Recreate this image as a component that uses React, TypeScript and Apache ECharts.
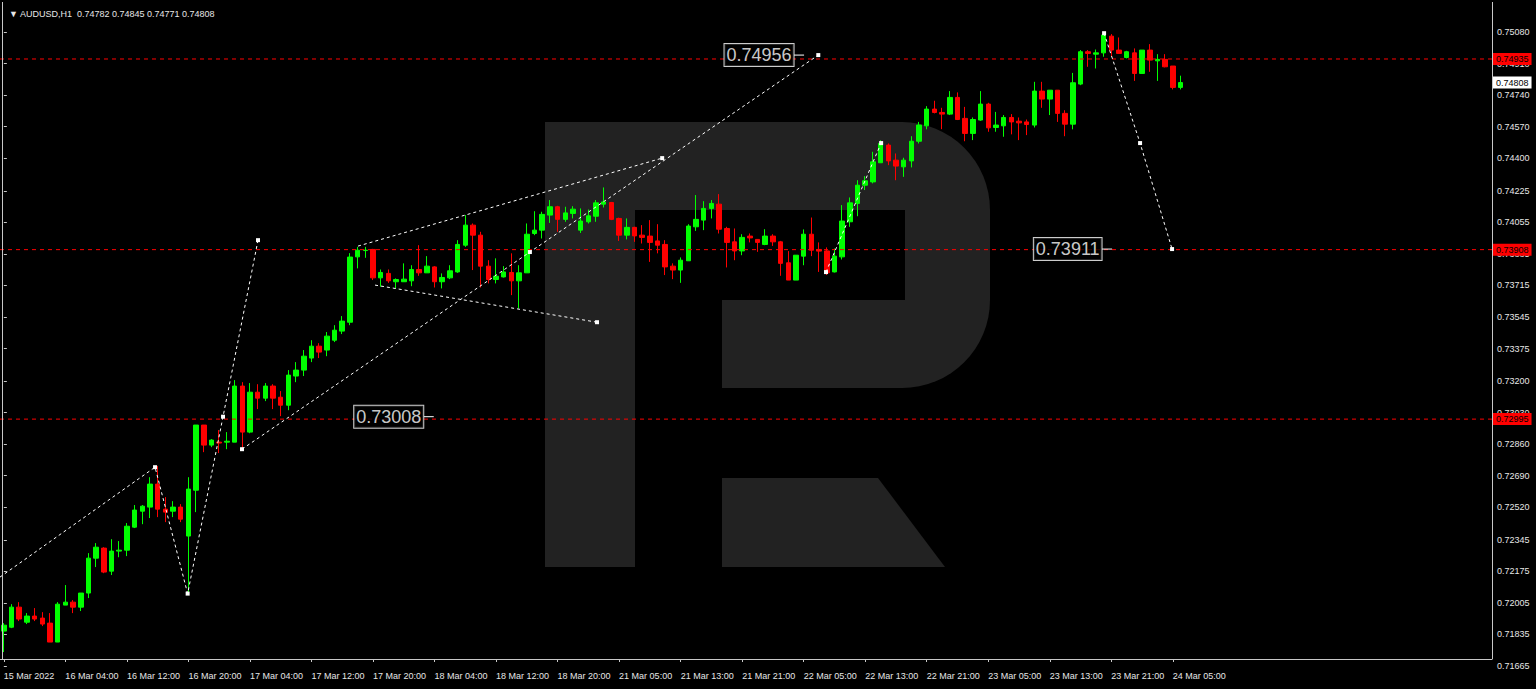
import React, { useEffect, useRef } from 'react';
import * as echarts from 'echarts';

// ---- data (H1 candles: [open, high, low, close]) ----
const candles: number[][] = [
  [0.71853, 0.71896, 0.71740, 0.71885], [0.71874, 0.71998, 0.71869, 0.71982], [0.71982, 0.72009, 0.71907, 0.71918], [0.71901, 0.71950, 0.71891, 0.71934],
  [0.71934, 0.71977, 0.71907, 0.71918], [0.71923, 0.71955, 0.71880, 0.71891], [0.71896, 0.71950, 0.71794, 0.71794], [0.71794, 0.72009, 0.71794, 0.71998],
  [0.71993, 0.72101, 0.71993, 0.72009], [0.72009, 0.72020, 0.71950, 0.71982], [0.71982, 0.72058, 0.71961, 0.72058], [0.72058, 0.72273, 0.72031, 0.72246],
  [0.72246, 0.72327, 0.72198, 0.72305], [0.72300, 0.72305, 0.72165, 0.72171], [0.72176, 0.72348, 0.72155, 0.72284], [0.72284, 0.72338, 0.72251, 0.72289],
  [0.72289, 0.72435, 0.72257, 0.72418], [0.72413, 0.72532, 0.72408, 0.72505], [0.72499, 0.72532, 0.72429, 0.72526], [0.72521, 0.72682, 0.72462, 0.72645],
  [0.72645, 0.72742, 0.72467, 0.72510], [0.72510, 0.72575, 0.72440, 0.72494], [0.72499, 0.72553, 0.72467, 0.72521], [0.72521, 0.72537, 0.72440, 0.72456],
  [0.72365, 0.72682, 0.72047, 0.72618], [0.72612, 0.72963, 0.72494, 0.72963], [0.72963, 0.72963, 0.72817, 0.72855], [0.72855, 0.72887, 0.72844, 0.72882],
  [0.72871, 0.72936, 0.72812, 0.72866], [0.72871, 0.72925, 0.72833, 0.72876], [0.72871, 0.73205, 0.72871, 0.73173], [0.73173, 0.73194, 0.72839, 0.72925],
  [0.72925, 0.73189, 0.72919, 0.73140], [0.73140, 0.73183, 0.73049, 0.73108], [0.73108, 0.73189, 0.73092, 0.73173], [0.73173, 0.73183, 0.73049, 0.73108],
  [0.73113, 0.73146, 0.73011, 0.73070], [0.73070, 0.73259, 0.73043, 0.73232], [0.73227, 0.73302, 0.73194, 0.73259], [0.73259, 0.73367, 0.73227, 0.73334],
  [0.73324, 0.73420, 0.73302, 0.73388], [0.73388, 0.73404, 0.73324, 0.73356], [0.73367, 0.73464, 0.73334, 0.73442], [0.73420, 0.73501, 0.73410, 0.73474],
  [0.73469, 0.73550, 0.73453, 0.73523], [0.73517, 0.73889, 0.73501, 0.73868], [0.73869, 0.73923, 0.73807, 0.73905], [0.73903, 0.73923, 0.73864, 0.73905],
  [0.73909, 0.73912, 0.73744, 0.73756], [0.73756, 0.73801, 0.73708, 0.73785], [0.73780, 0.73801, 0.73729, 0.73740], [0.73735, 0.73753, 0.73699, 0.73747],
  [0.73735, 0.73834, 0.73735, 0.73749], [0.73740, 0.73824, 0.73711, 0.73801], [0.73801, 0.73932, 0.73767, 0.73783], [0.73783, 0.73873, 0.73783, 0.73819],
  [0.73815, 0.73819, 0.73704, 0.73735], [0.73735, 0.73780, 0.73699, 0.73758], [0.73756, 0.73824, 0.73749, 0.73794], [0.73788, 0.73959, 0.73783, 0.73936],
  [0.73932, 0.74094, 0.73923, 0.74040], [0.74040, 0.74049, 0.73798, 0.73986], [0.73986, 0.74004, 0.73704, 0.73819], [0.73819, 0.73851, 0.73726, 0.73747],
  [0.73747, 0.73861, 0.73726, 0.73765], [0.73761, 0.73819, 0.73758, 0.73788], [0.73785, 0.73888, 0.73663, 0.73740], [0.73740, 0.73824, 0.73591, 0.73783],
  [0.73783, 0.74049, 0.73783, 0.73991], [0.73995, 0.74115, 0.73986, 0.74013], [0.74013, 0.74112, 0.73968, 0.74098], [0.74094, 0.74175, 0.74052, 0.74139],
  [0.74139, 0.74144, 0.74004, 0.74071], [0.74071, 0.74139, 0.74058, 0.74106], [0.74103, 0.74142, 0.74076, 0.74126], [0.74013, 0.74130, 0.73998, 0.74062],
  [0.74058, 0.74124, 0.74049, 0.74090], [0.74088, 0.74175, 0.74058, 0.74160], [0.74153, 0.74243, 0.74135, 0.74165], [0.74162, 0.74165, 0.74067, 0.74071],
  [0.74076, 0.74080, 0.73955, 0.73986], [0.73986, 0.74076, 0.73963, 0.74028], [0.74028, 0.74031, 0.73950, 0.73982], [0.73986, 0.74040, 0.73941, 0.73974],
  [0.73981, 0.74067, 0.73842, 0.73947], [0.73955, 0.74045, 0.73888, 0.73932], [0.73936, 0.73959, 0.73771, 0.73815], [0.73819, 0.73834, 0.73749, 0.73798],
  [0.73798, 0.73866, 0.73729, 0.73851], [0.73848, 0.74045, 0.73848, 0.74035], [0.74031, 0.74202, 0.74009, 0.74071], [0.74067, 0.74169, 0.74013, 0.74130],
  [0.74130, 0.74175, 0.74076, 0.74157], [0.74153, 0.74207, 0.73995, 0.74018], [0.74022, 0.74031, 0.73812, 0.73947], [0.73950, 0.74022, 0.73851, 0.73901],
  [0.73901, 0.73991, 0.73878, 0.73974], [0.73981, 0.73995, 0.73947, 0.73971], [0.73963, 0.73965, 0.73896, 0.73947], [0.73936, 0.74018, 0.73932, 0.73981],
  [0.73981, 0.73991, 0.73928, 0.73950], [0.73950, 0.73955, 0.73767, 0.73834], [0.73837, 0.73900, 0.73744, 0.73744], [0.73744, 0.73878, 0.73744, 0.73878],
  [0.73873, 0.74017, 0.73824, 0.73991], [0.73991, 0.74081, 0.73873, 0.73905], [0.73909, 0.73947, 0.73788, 0.73900], [0.73901, 0.73920, 0.73771, 0.73783],
  [0.73788, 0.73914, 0.73785, 0.73873], [0.73869, 0.74148, 0.73855, 0.74062], [0.74058, 0.74189, 0.74031, 0.74160], [0.74157, 0.74282, 0.74088, 0.74255],
  [0.74255, 0.74304, 0.74229, 0.74279], [0.74273, 0.74435, 0.74265, 0.74381], [0.74376, 0.74498, 0.74376, 0.74480], [0.74471, 0.74480, 0.74363, 0.74386],
  [0.74390, 0.74426, 0.74282, 0.74358], [0.74354, 0.74403, 0.74300, 0.74390], [0.74386, 0.74519, 0.74351, 0.74492], [0.74492, 0.74596, 0.74480, 0.74579],
  [0.74575, 0.74681, 0.74556, 0.74665], [0.74665, 0.74710, 0.74642, 0.74647], [0.74647, 0.74672, 0.74557, 0.74638], [0.74638, 0.74762, 0.74633, 0.74728],
  [0.74728, 0.74755, 0.74606, 0.74609], [0.74615, 0.74677, 0.74492, 0.74534], [0.74534, 0.74620, 0.74498, 0.74609], [0.74606, 0.74762, 0.74602, 0.74692],
  [0.74692, 0.74699, 0.74543, 0.74564], [0.74566, 0.74650, 0.74543, 0.74579], [0.74575, 0.74633, 0.74516, 0.74620], [0.74620, 0.74638, 0.74529, 0.74596],
  [0.74600, 0.74620, 0.74498, 0.74591], [0.74596, 0.74609, 0.74525, 0.74582], [0.74579, 0.74812, 0.74566, 0.74762], [0.74762, 0.74812, 0.74672, 0.74719],
  [0.74719, 0.74767, 0.74633, 0.74767], [0.74767, 0.74767, 0.74596, 0.74642], [0.74642, 0.74659, 0.74519, 0.74584], [0.74584, 0.74860, 0.74556, 0.74807],
  [0.74800, 0.74983, 0.74794, 0.74974], [0.74974, 0.74983, 0.74893, 0.74965], [0.74961, 0.74986, 0.74884, 0.74968], [0.74968, 0.75081, 0.74947, 0.75064],
  [0.75058, 0.75069, 0.74947, 0.74983], [0.74983, 0.75051, 0.74965, 0.74965], [0.74943, 0.74979, 0.74938, 0.74974], [0.74968, 0.74992, 0.74817, 0.74857],
  [0.74857, 0.74983, 0.74857, 0.74983], [0.74983, 0.75015, 0.74866, 0.74929], [0.74925, 0.74961, 0.74817, 0.74933], [0.74933, 0.74961, 0.74890, 0.74893],
  [0.74897, 0.74897, 0.74771, 0.74782], [0.74782, 0.74845, 0.74771, 0.74808],
];

const xTickLabels = [
  '15 Mar 2022', '16 Mar 04:00', '16 Mar 12:00', '16 Mar 20:00', '17 Mar 04:00', '17 Mar 12:00', '17 Mar 20:00',
  '18 Mar 04:00', '18 Mar 12:00', '18 Mar 20:00', '21 Mar 05:00', '21 Mar 13:00', '21 Mar 21:00', '22 Mar 05:00',
  '22 Mar 13:00', '22 Mar 21:00', '23 Mar 05:00', '23 Mar 13:00', '23 Mar 21:00', '24 Mar 05:00',
];
const X_LABEL_EVERY = 8;
const TOTAL_SLOTS = 194; // bars + empty right shift

const yTickLabels = [
  '0.75080', '0.74910', '0.74740', '0.74570', '0.74400', '0.74225', '0.74055', '0.73885', '0.73715', '0.73545',
  '0.73375', '0.73200', '0.73030', '0.72860', '0.72690', '0.72520', '0.72345', '0.72175', '0.72005', '0.71835', '0.71665',
];
const Y_MIN = 0.71665;
const Y_MAX = 0.75242;

const levelLines = [0.74935, 0.73908, 0.72995];
const currentPrice = 0.74808;
const headerText = '▼ AUDUSD,H1  0.74782 0.74845 0.74771 0.74808';

// dotted analysis paths: [bar index (fractional), price]
const pathWave = [[-0.5, 0.72144], [19.66, 0.72736], [23.9, 0.72055], [28.5, 0.73008], [33.05, 0.73959]];
const pathTrend = [[30.97, 0.72833], [68.4, 0.73895], [105.9, 0.74956]];
const pathTriUpper = [[46.05, 0.73927], [85.6, 0.74401]];
const pathTriLower = [[48.26, 0.73717], [77.13, 0.73517]];
const pathRise = [[106.9, 0.73787], [114.07, 0.74482]];
const pathFall = [[143.06, 0.75074], [147.74, 0.74482], [151.9, 0.73911]];

// price label boxes: [bar index of box right edge, price]
const targetBoxes = [[102.75, 0.74956], [142.8, 0.73911], [54.6, 0.73008]];

const FONT = 'Liberation Sans, DejaVu Sans, sans-serif';

export default function App() {
  const ref = useRef<HTMLDivElement>(null);
  useEffect(() => {
    if (!ref.current) return;
    const chart = echarts.init(ref.current, undefined, { renderer: 'svg' });
    const cats = Array.from({ length: TOTAL_SLOTS }, (_, i) => String(i));
    const candleData = candles.map((c) => [c[0], c[3], c[2], c[1]]);
    const showIdx = (i: number) => i % X_LABEL_EVERY === 0 && i / X_LABEL_EVERY < xTickLabels.length;
    const X_END = TOTAL_SLOTS - 0.5;

    const dotted = (pts: number[][], startSym: boolean) => ({
      type: 'line',
      xAxisIndex: 1,
      yAxisIndex: 0,
      silent: true,
      z: 5,
      data: pts.map((p, i) => ({ value: p, symbolSize: i === 0 && !startSym ? 0 : 4 })),
      symbol: 'rect',
      lineStyle: { color: '#ffffff', width: 1, type: [3, 3] },
      itemStyle: { color: '#ffffff' },
    });

    const priceTag = (v: number, bg: string, showLine: boolean) => ({
      type: 'line',
      xAxisIndex: 1,
      yAxisIndex: 0,
      silent: true,
      z: 4,
      symbol: 'none',
      data: [[-0.5, v], [X_END, v]],
      lineStyle: showLine ? { color: '#ff0000', width: 1, type: [4, 4] } : { opacity: 0 },
      endLabel: {
        show: true,
        formatter: () => v.toFixed(5),
        backgroundColor: bg,
        color: '#000000',
        fontSize: 9,
        fontFamily: FONT,
        padding: [2, 3, 1, 3],
        distance: 1,
      },
    });

    const option: any = {
      animation: false,
      backgroundColor: '#000000',
      title: {
        text: headerText,
        left: 4,
        top: 4,
        textStyle: { color: '#e6e6e6', fontSize: 9, fontWeight: 'normal', fontFamily: FONT },
      },
      graphic: [
        { type: 'rect', z: 0, shape: { x: 545, y: 122, width: 445, height: 266, r: [0, 88, 88, 0] }, style: { fill: '#222222' } },
        { type: 'rect', z: 0, shape: { x: 545, y: 122, width: 90, height: 445 }, style: { fill: '#222222' } },
        { type: 'rect', z: 0, shape: { x: 635, y: 210, width: 270, height: 90 }, style: { fill: '#000000' } },
        { type: 'rect', z: 0, shape: { x: 635, y: 300, width: 87, height: 88 }, style: { fill: '#000000' } },
        { type: 'polygon', z: 0, shape: { points: [[722, 478], [878, 478], [945, 567], [722, 567]] }, style: { fill: '#222222' } },
        { type: 'line', z: 10, shape: { x1: 2.5, y1: 2, x2: 2.5, y2: 659 }, style: { stroke: '#c8c8c8', lineWidth: 1 } },
        { type: 'line', z: 10, shape: { x1: 1492.5, y1: 2, x2: 1492.5, y2: 659 }, style: { stroke: '#c8c8c8', lineWidth: 1 } },
      ],
      grid: { left: 0, right: 44, top: 2, bottom: 23 },
      xAxis: [
        {
          type: 'category',
          data: cats,
          boundaryGap: true,
          offset: -7,
          axisLine: { lineStyle: { color: '#c8c8c8', width: 1 } },
          axisTick: { show: true, alignWithLabel: true, interval: (i: number) => showIdx(i), length: 3, lineStyle: { color: '#c8c8c8' } },
          axisLabel: {
            interval: (i: number) => showIdx(i),
            formatter: (_v: string, i: number) => xTickLabels[i / X_LABEL_EVERY] ?? '',
            align: 'left',
            color: '#e6e6e6',
            fontSize: 9,
            fontFamily: FONT,
            margin: 12,
          },
          splitLine: { show: false },
        },
        { type: 'value', min: -0.5, max: X_END, show: false },
      ],
      yAxis: {
        type: 'value',
        position: 'right',
        min: Y_MIN,
        max: Y_MAX,
        axisLine: { show: false },
        axisTick: { show: true, length: 3, lineStyle: { color: '#c8c8c8' }, customValues: yTickLabels.map(Number) },
        axisLabel: {
          customValues: yTickLabels.map(Number),
          formatter: (v: number) => v.toFixed(5),
          color: '#e6e6e6',
          fontSize: 9,
          fontFamily: FONT,
          margin: 5,
        },
        splitLine: { show: false },
      },
      series: [
        {
          type: 'candlestick',
          xAxisIndex: 0,
          yAxisIndex: 0,
          data: candleData,
          barWidth: 5,
          z: 3,
          itemStyle: { color: '#00ff00', borderColor: '#00ff00', color0: '#ff0000', borderColor0: '#ff0000', borderWidth: 1 },
        },
        ...levelLines.map((v) => priceTag(v, '#ff0000', true)),
        priceTag(currentPrice, '#ffffff', false),
        dotted(pathWave, false),
        dotted(pathTrend, true),
        dotted(pathTriUpper, false),
        dotted(pathTriLower, false),
        dotted(pathRise, true),
        dotted(pathFall, true),
        ...targetBoxes.map((b) => ({
          type: 'line',
          xAxisIndex: 1,
          yAxisIndex: 0,
          silent: true,
          z: 6,
          symbol: 'none',
          data: [[b[0], b[1]], [b[0] + 1.3, b[1]]],
          lineStyle: { color: '#ffffff', width: 1 },
        })),
        {
          type: 'scatter',
          xAxisIndex: 1,
          yAxisIndex: 0,
          silent: true,
          z: 7,
          symbolSize: 1,
          itemStyle: { color: 'rgba(0,0,0,0)' },
          data: targetBoxes.map((b) => b),
          label: {
            show: true,
            position: 'left',
            distance: 0,
            formatter: (p: any) => Number(p.value[1]).toFixed(5),
            fontSize: 18,
            fontFamily: FONT,
            color: '#ffffff',
            backgroundColor: '#000000',
            borderColor: '#ffffff',
            borderWidth: 1,
            padding: [3, 2, 1, 2],
          },
        },
      ],
    };
    chart.setOption(option);
    return () => chart.dispose();
  }, []);
  return <div ref={ref} style={{ position: 'fixed', left: 0, top: 0, width: 1536, height: 689, background: '#000' }} />;
}
